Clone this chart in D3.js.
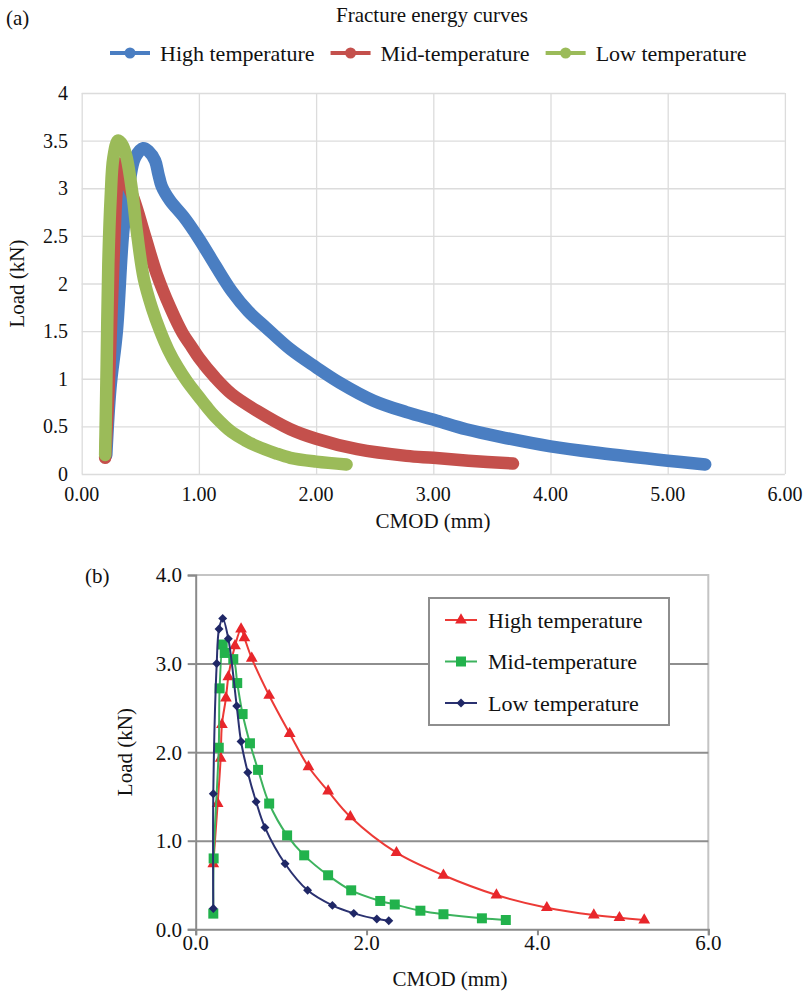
<!DOCTYPE html>
<html lang="en">
  <head>
    <meta charset="utf-8">
    <title>Fracture energy curves</title>
    <script src="https://cdn.jsdelivr.net/npm/d3@7"></script>
    <style>
      body { margin: 0; background: #fff; }
      text { font-family: "Liberation Serif", "Times New Roman", serif; fill: #111; }
    </style>
  </head>
  <body>
    <script>
      var w = 807;
      var h = 993;

      // ---- data, panel (a): [CMOD mm, load kN]
      var seriesNames = ["High temperature", "Mid-temperature", "Low temperature"];
      var highA = [[0.21,0.2],[0.245,0.9],[0.30,1.5],[0.355,2.55],[0.41,3.08],[0.455,3.32],[0.526,3.42],
                   [0.57,3.39],[0.626,3.29],[0.654,3.15],[0.683,3.02],[0.754,2.87],[0.87,2.70],
                   [1.0,2.47],[1.14,2.19],[1.28,1.92],[1.42,1.71],[1.57,1.54],[1.78,1.31],[2.0,1.12],
                   [2.2,0.96],[2.49,0.77],[2.77,0.65],[3.03,0.56],[3.28,0.47],[3.57,0.39],[4.0,0.29],
                   [4.42,0.22],[5.0,0.14],[5.32,0.10]];
      var midA = [[0.20,0.17],[0.23,0.9],[0.27,2.2],[0.30,3.0],[0.325,3.26],[0.36,3.12],[0.44,2.90],
                  [0.54,2.50],[0.64,2.10],[0.754,1.75],[0.86,1.48],[0.93,1.35],[1.0,1.22],[1.14,1.01],
                  [1.28,0.84],[1.5,0.66],[1.78,0.47],[2.0,0.37],[2.35,0.26],[2.77,0.19],[3.0,0.17],
                  [3.3,0.14],[3.68,0.11]];
      var lowA = [[0.20,0.2],[0.213,1.15],[0.227,2.2],[0.247,2.9],[0.27,3.32],[0.31,3.50],[0.35,3.45],
                  [0.384,3.32],[0.43,2.97],[0.47,2.55],[0.53,2.05],[0.60,1.74],[0.67,1.50],[0.74,1.30],
                  [0.82,1.12],[0.90,0.97],[1.0,0.81],[1.07,0.70],[1.14,0.60],[1.28,0.44],[1.4,0.35],
                  [1.5,0.29],[1.65,0.22],[1.78,0.17],[2.0,0.13],[2.26,0.10]];

      // ---- data, panel (b): averaged points with markers
      var highB = [[0.206,0.74],[0.257,1.42],[0.292,1.93],[0.307,2.31],[0.354,2.61],[0.382,2.85],[0.46,3.2],
                   [0.531,3.39],[0.57,3.29],[0.656,3.06],[0.86,2.64],[1.1,2.21],[1.32,1.835],[1.55,1.56],
                   [1.81,1.27],[2.35,0.865],[2.90,0.61],[3.52,0.387],[4.11,0.244],[4.66,0.161],[4.96,0.131],
                   [5.25,0.105]];
      var midB = [[0.206,0.177],[0.21,0.80],[0.27,2.05],[0.28,2.72],[0.316,3.215],[0.34,3.12],[0.44,3.05],
                  [0.486,2.78],[0.549,2.43],[0.635,2.10],[0.73,1.80],[0.86,1.42],[1.07,1.06],[1.27,0.835],
                  [1.55,0.61],[1.82,0.44],[2.16,0.32],[2.33,0.28],[2.63,0.21],[2.90,0.17],[3.35,0.124],
                  [3.63,0.105]];
      var lowB = [[0.206,0.234],[0.206,1.53],[0.246,3.0],[0.273,3.39],[0.316,3.51],[0.382,3.28],[0.48,2.52],
                  [0.531,2.12],[0.61,1.77],[0.707,1.44],[0.81,1.15],[1.046,0.74],[1.31,0.44],[1.60,0.27],
                  [1.85,0.18],[2.12,0.116],[2.26,0.097]];

      var xTicksA = [0, 1, 2, 3, 4, 5, 6];
      var yTicksA = [0, 0.5, 1, 1.5, 2, 2.5, 3, 3.5, 4];
      var xTicksB = [0, 2, 4, 6];
      var yTicksB = [0, 1, 2, 3, 4];

      var colorsA = ["#4a7ec2", "#c4504c", "#9bbb59"];
      var colorsB = ["#e8262b", "#22b24c", "#1f2766"];
      var lineColorsB = ["#ec3a36", "#3db35e", "#2a3170"];

      var svg = d3.select("body").append("svg")
                  .attr("width", w)
                  .attr("height", h);

      // ================= panel (a) =================
      var xA = d3.scaleLinear().domain([0, 6]).range([81.7, 784.9]);
      var yA = d3.scaleLinear().domain([0, 4]).range([474, 93]);

      var gA = svg.append("g");

      gA.append("g")
        .attr("transform", "translate(0," + yA(0) + ")")
        .call(d3.axisBottom(xA).tickValues(xTicksA).tickSize(-(yA(0) - yA(4))).tickFormat(""))
        .call(function (g) {
          g.select(".domain").remove();
          g.selectAll("line").attr("stroke", "#dcdcdc").attr("stroke-width", 1.3);
        });
      gA.append("g")
        .attr("transform", "translate(" + xA(0) + ",0)")
        .call(d3.axisLeft(yA).tickValues(yTicksA).tickSize(-(xA(6) - xA(0))).tickFormat(""))
        .call(function (g) {
          g.select(".domain").remove();
          g.selectAll("line").attr("stroke", "#dcdcdc").attr("stroke-width", 1.3);
        });

      gA.selectAll(".ylab")
        .data(yTicksA)
        .enter()
        .append("text")
        .attr("x", 68)
        .attr("y", function (d) { return yA(d); })
        .attr("dy", "0.35em")
        .attr("text-anchor", "end")
        .attr("font-size", "20px")
        .text(function (d) { return String(d); });

      gA.selectAll(".xlab")
        .data(xTicksA)
        .enter()
        .append("text")
        .attr("x", function (d) { return xA(d); })
        .attr("y", 494)
        .attr("dy", "0.35em")
        .attr("text-anchor", "middle")
        .attr("font-size", "20px")
        .text(d3.format(".2f"));

      var lineA = d3.line()
                    .x(function (d) { return xA(d[0]); })
                    .y(function (d) { return yA(d[1]); })
                    .curve(d3.curveCatmullRom.alpha(0.5));

      [highA, midA, lowA].forEach(function (s, i) {
        gA.append("path")
          .attr("d", lineA(s))
          .attr("fill", "none")
          .attr("stroke", colorsA[i])
          .attr("stroke-width", 12.5)
          .attr("stroke-linecap", "round")
          .attr("stroke-linejoin", "round");
      });

      gA.append("text")
        .attr("x", 433).attr("y", 528)
        .attr("text-anchor", "middle")
        .attr("font-size", "21px")
        .text("CMOD (mm)");

      gA.append("text")
        .attr("transform", "translate(24," + (yA(2)) + ") rotate(-90)")
        .attr("text-anchor", "middle")
        .attr("font-size", "21px")
        .text("Load (kN)");

      svg.append("text")
        .attr("x", 432).attr("y", 22)
        .attr("text-anchor", "middle")
        .attr("font-size", "21px")
        .text("Fracture energy curves");

      svg.append("text")
        .attr("x", 6).attr("y", 25)
        .attr("font-size", "21px")
        .text("(a)");

      // legend (a)
      var legX = 110;
      seriesNames.forEach(function (name, i) {
        var g = svg.append("g").attr("transform", "translate(" + legX + ",53)");
        g.append("line").attr("x1", 0).attr("x2", 40)
          .attr("stroke", colorsA[i]).attr("stroke-width", 4);
        g.append("circle").attr("cx", 20).attr("r", 5.5).attr("fill", colorsA[i]);
        var t = g.append("text").attr("x", 50).attr("dy", "0.35em")
          .attr("font-size", "22px").text(name);
        legX += 50 + t.node().getComputedTextLength() + 16;
      });

      // ================= panel (b) =================
      var xB = d3.scaleLinear().domain([0, 6]).range([195.7, 708.3]);
      var yB = d3.scaleLinear().domain([0, 4]).range([929.3, 575]);

      var gB = svg.append("g");

      // plot border (top/right)
      gB.append("path")
        .attr("d", "M" + xB(0) + "," + yB(4) + "H" + xB(6) + "V" + yB(0))
        .attr("fill", "none").attr("stroke", "#c4c4c4").attr("stroke-width", 2);

      // horizontal gridlines
      gB.append("g")
        .attr("transform", "translate(" + xB(0) + ",0)")
        .call(d3.axisLeft(yB).tickValues([1, 2, 3]).tickSize(-(xB(6) - xB(0))).tickFormat(""))
        .call(function (g) {
          g.select(".domain").remove();
          g.selectAll("line").attr("stroke", "#8e8e8e").attr("stroke-width", 2);
        });

      // axes
      gB.append("g")
        .attr("transform", "translate(" + xB(0) + ",0)")
        .call(d3.axisLeft(yB).tickValues(yTicksB).tickSize(8).tickFormat(""))
        .call(function (g) {
          g.select(".domain").attr("stroke", "#8a8a8a").attr("stroke-width", 2);
          g.selectAll("line").attr("stroke", "#8a8a8a").attr("stroke-width", 2);
        });
      gB.append("g")
        .attr("transform", "translate(0," + yB(0) + ")")
        .call(d3.axisBottom(xB).tickValues(xTicksB).tickSize(6).tickFormat(""))
        .call(function (g) {
          g.select(".domain").attr("stroke", "#8a8a8a").attr("stroke-width", 2);
          g.selectAll("line").attr("stroke", "#8a8a8a").attr("stroke-width", 2);
        });

      gB.selectAll(".ylabB")
        .data(yTicksB)
        .enter()
        .append("text")
        .attr("x", 182)
        .attr("y", function (d) { return yB(d); })
        .attr("dy", "0.35em")
        .attr("text-anchor", "end")
        .attr("font-size", "21px")
        .text(d3.format(".1f"));

      gB.selectAll(".xlabB")
        .data(xTicksB)
        .enter()
        .append("text")
        .attr("x", function (d) { return xB(d); })
        .attr("y", 943)
        .attr("dy", "0.35em")
        .attr("text-anchor", "middle")
        .attr("font-size", "21px")
        .text(d3.format(".1f"));

      var lineB = d3.line()
                    .x(function (d) { return xB(d[0]); })
                    .y(function (d) { return yB(d[1]); })
                    .curve(d3.curveCatmullRom.alpha(0.5));

      var symbols = [
        d3.symbol().type(d3.symbolTriangle).size(60),
        d3.symbol().type(d3.symbolSquare).size(100),
        d3.symbol().type(d3.symbolSquare).size(40)
      ];
      var rot = [0, 0, 45];

      // draw order so that the navy series ends up on top, as in the figure
      [[highB, 0], [midB, 1], [lowB, 2]].forEach(function (p) {
        var s = p[0], i = p[1];
        gB.append("path")
          .attr("d", lineB(s))
          .attr("fill", "none")
          .attr("stroke", lineColorsB[i])
          .attr("stroke-width", 2);
        gB.selectAll(".m" + i)
          .data(s)
          .enter()
          .append("path")
          .attr("d", symbols[i])
          .attr("transform", function (d) {
            return "translate(" + xB(d[0]) + "," + yB(d[1]) + ") rotate(" + rot[i] + ")";
          })
          .attr("fill", colorsB[i]);
      });

      // legend (b)
      var lg = gB.append("g").attr("transform", "translate(429,598)");
      lg.append("rect").attr("width", 240).attr("height", 127)
        .attr("fill", "#fff").attr("stroke", "#8e8e8e").attr("stroke-width", 2);
      seriesNames.forEach(function (name, i) {
        var row = lg.append("g").attr("transform", "translate(0," + (22 + i * 41.5) + ")");
        row.append("line").attr("x1", 16).attr("x2", 48)
          .attr("stroke", lineColorsB[i]).attr("stroke-width", 2);
        row.append("path").attr("d", symbols[i])
          .attr("transform", "translate(32,0) rotate(" + rot[i] + ")")
          .attr("fill", colorsB[i]);
        row.append("text").attr("x", 59).attr("dy", "0.35em")
          .attr("font-size", "22px").text(name);
      });

      gB.append("text")
        .attr("x", 450).attr("y", 986)
        .attr("text-anchor", "middle")
        .attr("font-size", "21px")
        .text("CMOD (mm)");

      gB.append("text")
        .attr("transform", "translate(132," + yB(2) + ") rotate(-90)")
        .attr("text-anchor", "middle")
        .attr("font-size", "21px")
        .text("Load (kN)");

      svg.append("text")
        .attr("x", 85).attr("y", 583)
        .attr("font-size", "21px")
        .text("(b)");
    </script>
  </body>
</html>
